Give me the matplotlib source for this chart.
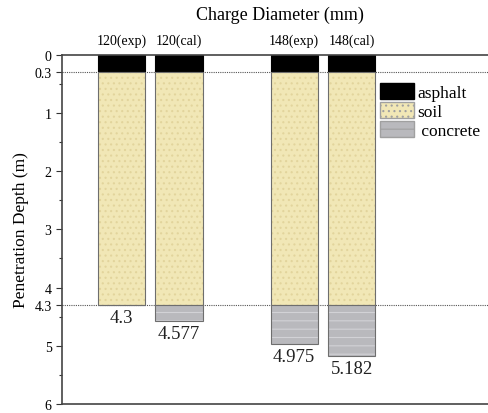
import numpy as np
import matplotlib.pyplot as plt
from matplotlib.patches import Patch

plt.rcParams['font.family'] = 'Liberation Serif'
plt.rcParams['hatch.linewidth'] = 0.8

cases = ['120(exp)', '120(cal)', '148(exp)', '148(cal)']
positions = [1, 2, 4, 5]
asphalt_bottom = 0.3      # asphalt layer 0 - 0.3 m
soil_bottom = 4.3         # soil layer 0.3 - 4.3 m
depth = [4.3, 4.577, 4.975, 5.182]
depth_labels = ['4.3', '4.577', '4.975', '5.182']

fig = plt.figure(figsize=(4.88, 4.14), dpi=100)
ax = fig.add_axes([0.127, 0.022, 0.873, 0.843])

w = 0.82
asphalt = [asphalt_bottom] * len(cases)
soil = [soil_bottom - asphalt_bottom] * len(cases)
concrete = [d - soil_bottom for d in depth]

# asphalt
ax.bar(positions, asphalt, w, bottom=0, color='black', edgecolor='black', linewidth=0.8)
# soil (stippled fill, then outline)
ax.bar(positions, soil, w, bottom=asphalt_bottom, color='#F1E7B6', edgecolor='#E2D49C',
       hatch='...', linewidth=0)
ax.bar(positions, soil, w, bottom=asphalt_bottom, fill=False, edgecolor='#6E6E6E', linewidth=0.8)
# concrete (lined fill, then outline)
ax.bar(positions, concrete, w, bottom=soil_bottom, color='#B9B9BD', edgecolor='#D2D2D6',
       hatch='--', linewidth=0)
ax.bar(positions, concrete, w, bottom=soil_bottom, fill=False, edgecolor='#6E6E6E', linewidth=0.8)

for p, d, lab in zip(positions, depth, depth_labels):
    ax.text(p, d + 0.07, lab, ha='center', va='top', fontsize=13.5, color='#222222')

ax.axhline(0.3, color='#555555', linestyle=(0, (1, 1)), linewidth=0.8, zorder=0.5)
ax.axhline(4.3, color='#555555', linestyle=(0, (1, 1)), linewidth=0.8, zorder=0.5)

ax.set_ylim(6, 0)
ax.set_xlim(-0.035, 7.37)
ax.set_yticks([0, 0.3, 1, 2, 3, 4, 4.3, 5, 6])
ax.set_yticklabels(['0', '0.3', '1', '2', '3', '4', '4.3', '5', '6'], fontsize=10)
ax.set_yticks([0.5, 1.5, 2.5, 3.5, 4.5, 5.5], minor=True)
ax.tick_params(axis='y', which='major', length=4, width=0.8, direction='out', color='#333333')
ax.tick_params(axis='y', which='minor', length=2.5, width=0.8, direction='out', color='#333333')
ax.set_ylabel('Penetration Depth (m)', fontsize=12.5, labelpad=4)

ax.xaxis.tick_top()
ax.set_xticks(positions)
ax.set_xticklabels(cases, fontsize=10)
ax.tick_params(axis='x', length=0, pad=6)

for s in ['left', 'top', 'bottom']:
    ax.spines[s].set_color('#444444')
    ax.spines[s].set_linewidth(1.2)
ax.spines['right'].set_visible(False)

fig.text(0.574, 0.962, 'Charge Diameter (mm)', ha='center', va='center', fontsize=13)

handles = [Patch(facecolor='black', edgecolor='black'),
           Patch(facecolor='#F1E7B6', edgecolor='#A0A0A0', hatch='...'),
           Patch(facecolor='#B9B9BD', edgecolor='#A0A0A0', hatch='--')]
fig.legend(handles, ['asphalt', 'soil', ' concrete'], loc='upper left',
           bbox_to_anchor=(0.778, 0.797), frameon=False, fontsize=12.5,
           handlelength=2.0, handleheight=1.05, handletextpad=0.15, labelspacing=0.05,
           borderaxespad=0, borderpad=0)

plt.savefig('out.png', dpi=100)
